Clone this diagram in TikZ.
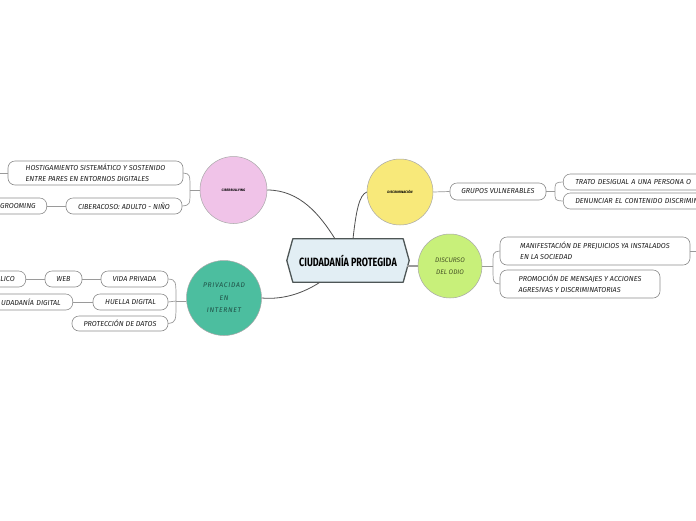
\documentclass[tikz,border=0pt]{standalone}
\usepackage{fontspec}
\usepackage{graphicx}
\newfontfamily\hand{Fira Sans}
\newfontfamily\handsp[LetterSpace=10]{Fira Sans}
\definecolor{leafline}{HTML}{8C8C8C}
\definecolor{leaftext}{HTML}{1E1E1E}
\definecolor{connline}{HTML}{9A9A9A}
\definecolor{mainline}{HTML}{505050}
\definecolor{circline}{HTML}{A8A8A8}
\definecolor{pinkc}{HTML}{F0C3E8}
\definecolor{yellowc}{HTML}{F8E97A}
\definecolor{greenc}{HTML}{C8F07A}
\definecolor{tealc}{HTML}{4CBE9F}
\definecolor{cenfill}{HTML}{E2EEF4}
\definecolor{cenline}{HTML}{4E5656}
\definecolor{odiotext}{HTML}{465226}
\definecolor{privtext}{HTML}{1F4F45}
\begin{document}
\begin{tikzpicture}[x=1pt,y=-1pt,
  leaf/.style={draw=leafline, fill=white, rounded corners=7pt, line width=0.6pt,
    font=\hand\itshape\fontsize{7.2}{10.5}\selectfont, text=leaftext,
    inner xsep=0pt, inner ysep=0pt, align=left, minimum height=16pt},
  topic/.style={circle, draw=circline, line width=0.5pt, inner sep=0pt},
  conn/.style={draw=connline, line width=0.7pt},
  mainc/.style={draw=mainline, line width=0.8pt}]
\useasboundingbox (0,0) rectangle (696,520);
\clip (0,0) rectangle (696,520);
\fill[white] (0,0) rectangle (696,520);

% central node
\node[minimum width=122pt, minimum height=43pt, inner sep=0pt] (cen) at (348,260.5) {};
\filldraw[fill=cenfill, draw=cenline, line width=1.3pt, line join=round]
  (cen.west) -- ([xshift=6pt]cen.north west) -- ([xshift=-6pt]cen.north east)
  -- (cen.east) -- ([xshift=-6pt]cen.south east) -- ([xshift=6pt]cen.south west) -- cycle;
\node[font=\hand\bfseries\fontsize{12}{12}\selectfont] (cent) at (cen.center)
  {\scalebox{0.75}[1]{CIUDADANÍA PROTEGIDA}};

% topics
\node[topic, fill=pinkc, minimum size=67pt,
  font=\hand\bfseries\itshape\fontsize{3.4}{4}\selectfont] (cyber) at (233.5,190) {CIBERBULLYING};
\node[topic, fill=yellowc, minimum size=66pt,
  font=\hand\bfseries\itshape\fontsize{3.4}{4}\selectfont] (discr) at (400,192) {DISCRIMINACIÓN};
\node[topic, fill=greenc, minimum size=64pt, text=odiotext, align=center,
  font=\hand\itshape\fontsize{6.6}{12}\selectfont] (odio) at (450,266) {DISCURSO\\DEL ODIO};
\node[topic, fill=tealc, minimum size=75pt, text=privtext, align=center,
  font=\handsp\itshape\fontsize{6.8}{12.5}\selectfont] (priv) at (224,298) {PRIVACIDAD\\EN\\INTERNET};

% leaves: ciberbullying
\node[leaf, minimum width=175pt, minimum height=24pt] (hostig) at (95.5,173)
  {HOSTIGAMIENTO SISTEMÁTICO Y SOSTENIDO\\ENTRE PARES EN ENTORNOS DIGITALES};
\node[leaf, minimum width=116pt] (cibera) at (124,206) {CIBERACOSO: ADULTO - NIÑO};
\node[leaf, anchor=east, text width=60pt, align=right, inner xsep=11pt] (groom) at (47,206) {GROOMING};

% leaves: privacidad
\node[leaf, minimum width=67pt] (vida) at (134.5,279) {VIDA PRIVADA};
\node[leaf, minimum width=37pt] (web) at (63.5,279) {WEB};
\node[leaf, anchor=east, text width=50pt, align=right, inner xsep=11pt] (lico) at (26,279) {LICO};
\node[leaf, minimum width=75pt] (huella) at (130.5,302) {HUELLA DIGITAL};
\node[leaf, anchor=east, text width=90pt, align=right, inner xsep=12pt] (ciudig) at (73,302) {UDADANÍA DIGITAL};
\node[leaf, minimum width=96pt, minimum height=15pt] (protec) at (120,323.5) {PROTECCIÓN DE DATOS};

% leaves: discriminacion
\node[leaf, minimum width=96pt, minimum height=17pt] (grupos) at (498,191.5) {GRUPOS VULNERABLES};
\node[leaf, anchor=west, text width=170pt, align=left, inner xsep=12pt] (trato) at (563,182) {TRATO DESIGUAL A UNA PERSONA O};
\node[leaf, anchor=west, text width=170pt, align=left, inner xsep=12pt] (denun) at (563,201) {DENUNCIAR EL CONTENIDO DISCRIMIN};

% leaves: discurso del odio
\node[leaf, minimum width=190pt, minimum height=28pt] (manif) at (595,251)
  {MANIFESTACIÓN DE PREJUICIOS YA INSTALADOS\\EN LA SOCIEDAD};
\node[leaf, minimum width=160pt, minimum height=28pt] (promo) at (580,284)
  {PROMOCIÓN DE MENSAJES Y ACCIONES\\AGRESIVAS Y DISCRIMINATORIAS};

% main connectors
\coordinate (c1) at ([xshift=-13pt]cen.north);
\coordinate (c2) at ([xshift=5pt]cen.north);
\coordinate (c3) at ([xshift=-28pt]cen.south);
\coordinate (c4) at (407,266);
\draw[mainc] (cyber.east) .. controls (300,190) and (320,215) .. (c1);
\draw[mainc] (c2) .. controls (356,212) and (359,195) .. (discr.west);
\draw[mainc] (c3) .. controls (305,292) and (285,300) .. (priv.east);
\draw[connline, line width=1.2pt] (c4) -- (odio.west);

% sub connectors
\coordinate (cbj) at (190,190);
\draw[conn] (cyber.west) -- (cbj);
\draw[conn] (cbj) .. controls (190,174) .. (hostig.east);
\draw[conn] (cbj) .. controls (190,205) .. (cibera.east);
\draw[conn] (groom.east) -- (cibera.west);
\coordinate (hl) at (0,173);
\draw[conn] (hostig.west) -- (hl);

\coordinate (pj) at (176,301);
\draw[conn] (priv.west |- pj) -- (pj);
\draw[conn] (pj) .. controls (176,280) .. (vida.east);
\draw[conn] (pj) -- (huella.east);
\draw[conn] (pj) .. controls (176,322) .. (protec.east);
\draw[conn] (web.east) -- (vida.west);
\draw[conn] (lico.east) -- (web.west);
\draw[conn] (ciudig.east) -- (huella.west);

\draw[conn] (discr.east) -- (grupos.west);
\coordinate (gj) at (555,191.5);
\draw[conn] (grupos.east) -- (gj);
\draw[conn] (gj) .. controls (555,182.5) .. (trato.west);
\draw[conn] (gj) .. controls (555,200.5) .. (denun.west);

\coordinate (oj) at (493,266);
\draw[conn] (odio.east) -- (oj);
\draw[conn] (oj) .. controls (493,252) .. (manif.west);
\draw[conn] (oj) .. controls (493,283) .. (promo.west);
\coordinate (mr) at (696,251);
\draw[conn] (manif.east) -- (mr);
\end{tikzpicture}
\end{document}
